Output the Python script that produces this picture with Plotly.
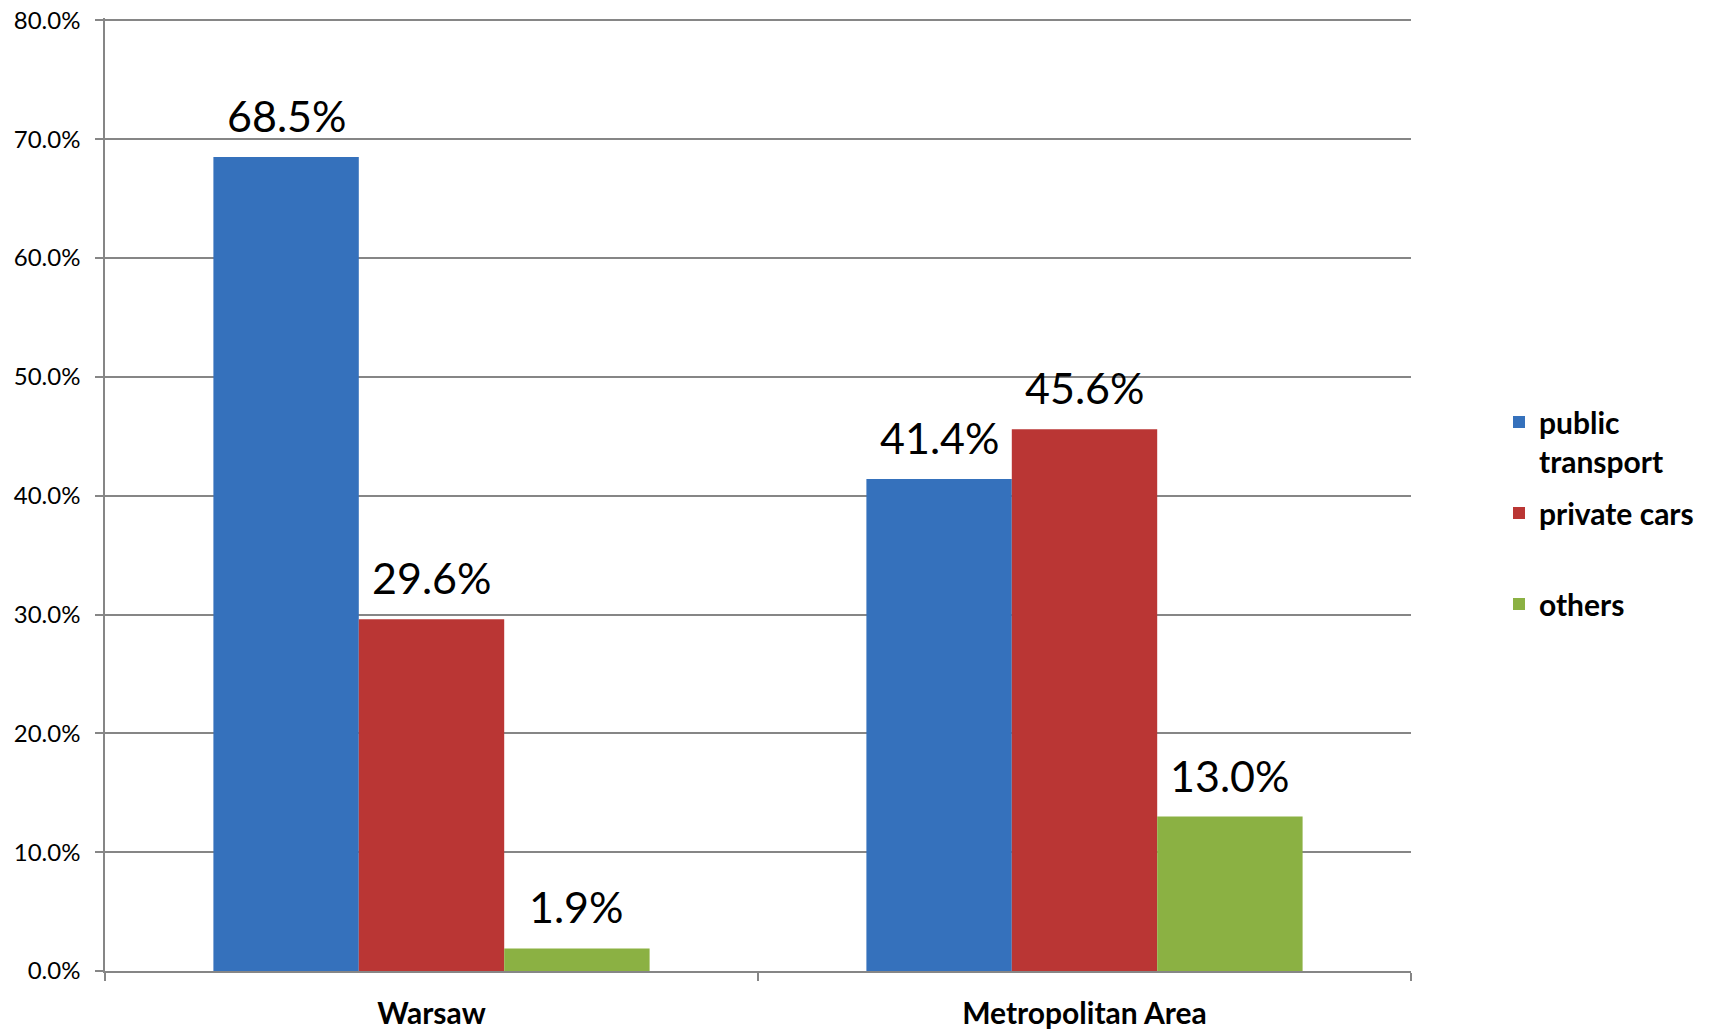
import plotly.graph_objects as go

categories = ["Warsaw", "Metropolitan Area"]
series_names = ["public<br>transport", "private cars", "others"]
public_transport = [0.685, 0.414]
private_cars = [0.296, 0.456]
others = [0.019, 0.130]
y_ticks = [0.0, 0.1, 0.2, 0.3, 0.4, 0.5, 0.6, 0.7, 0.8]

series_values = [public_transport, private_cars, others]
colors = ["#3571BC", "#BA3634", "#8BB143"]

FONT = "Lato, sans-serif"
BARGAP = 0.332

W, H = 1710, 1029
ML, MR, MT, MB = 105, 299, 18, 58

fig = go.Figure()
legend_ids = ["legend", "legend2", "legend3"]
for name, vals, col, lg in zip(series_names, series_values, colors, legend_ids):
    fig.add_trace(go.Bar(
        x=categories, y=vals, name=name,
        marker=dict(color=col, line=dict(width=0)),
        legend=lg,
    ))

# value labels above bars
n = len(series_values)
bw = (1 - BARGAP) / n
for j, vals in enumerate(series_values):
    for i, v in enumerate(vals):
        fig.add_annotation(
            x=i + (j - (n - 1) / 2) * bw, y=v, xref="x", yref="y",
            text=f"{v*100:.1f}%", showarrow=False, yanchor="bottom",
            yshift=14, font=dict(family=FONT, size=43, color="#000000"),
        )

plot_h = H - MT - MB
plot_w = W - ML - MR
def py(px):
    return (H - MB - px) / plot_h
def pxx(px):
    return (px - ML) / plot_w

legend_tops = [396, 487, 578]
common_leg = dict(
    x=pxx(1499), xanchor="left", yanchor="top",
    font=dict(family=FONT, size=30, color="#000000", weight="bold"),
    bgcolor="rgba(0,0,0,0)", borderwidth=0, valign="top",
    itemwidth=30,
)

fig.update_layout(
    width=W, height=H,
    margin=dict(l=ML, r=MR, t=MT, b=MB, autoexpand=False),
    paper_bgcolor="white", plot_bgcolor="white",
    barmode="group", bargap=BARGAP, bargroupgap=0,
    showlegend=True,
    legend=dict(y=py(legend_tops[0]), **common_leg),
    legend2=dict(y=py(legend_tops[1]), **common_leg),
    legend3=dict(y=py(legend_tops[2]), **common_leg),
    xaxis=dict(
        type="category", tickson="boundaries", ticks="outside", ticklen=8,
        tickcolor="#868686", tickwidth=1.5, automargin=False,
        showline=True, linecolor="#868686", linewidth=1.5,
        showgrid=False, ticklabelstandoff=15,
        tickfont=dict(family=FONT, size=30, color="#000000", weight="bold"),
    ),
    yaxis=dict(
        range=[0, 0.802], tickvals=y_ticks, tickformat=".1%", automargin=False,
        ticks="outside", ticklen=8, tickcolor="#868686", tickwidth=1.5,
        showline=True, linecolor="#868686", linewidth=1.5,
        showgrid=True, gridcolor="#868686", gridwidth=1.5,
        zeroline=False, ticklabelstandoff=10,
        tickfont=dict(family=FONT, size=24, color="#000000"),
    ),
)

fig.write_html(
    "out.html",
    config={"displayModeBar": False},
    post_script="document.body.style.margin='0';document.body.style.overflow='hidden';",
)
